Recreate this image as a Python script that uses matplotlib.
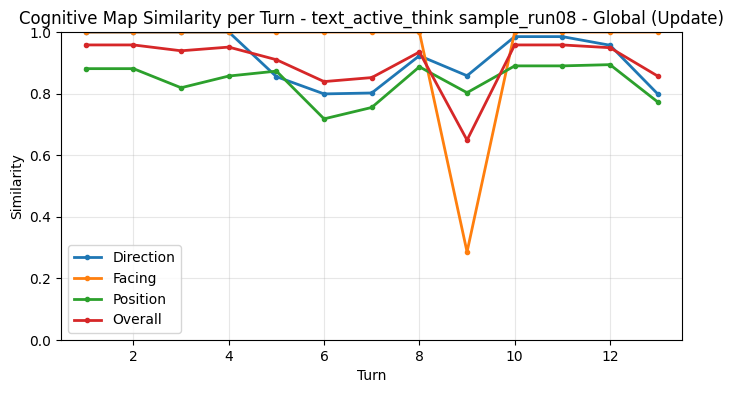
import matplotlib
matplotlib.use("Agg")
import matplotlib.pyplot as plt

# per-turn similarity values
turns = list(range(1, 14))
direction = [1.0, 1.0, 1.0, 1.0, 0.855, 0.799, 0.802, 0.923, 0.858, 0.985, 0.985, 0.957, 0.799]
facing = [1.0, 1.0, 1.0, 1.0, 1.0, 1.0, 1.0, 1.0, 0.286, 1.0, 1.0, 1.0, 1.0]
position = [0.881, 0.881, 0.819, 0.857, 0.873, 0.718, 0.755, 0.887, 0.803, 0.890, 0.890, 0.894, 0.773]
overall = [0.958, 0.958, 0.939, 0.951, 0.910, 0.839, 0.852, 0.935, 0.649, 0.958, 0.958, 0.949, 0.857]

W, H = 733, 393
fig = plt.figure(figsize=(W / 100, H / 100), dpi=100)
# axes box placed to match the reference pixels
ax = fig.add_axes([61 / W, (H - 340) / H, (681.5 - 61) / W, (340 - 32) / H])
ax.plot(turns, direction, marker="o", markersize=3, linewidth=2, label="Direction")
ax.plot(turns, facing, marker="o", markersize=3, linewidth=2, label="Facing")
ax.plot(turns, position, marker="o", markersize=3, linewidth=2, label="Position")
ax.plot(turns, overall, marker="o", markersize=3, linewidth=2, label="Overall")

ax.set_title("Cognitive Map Similarity per Turn - text_active_think sample_run08 - Global (Update)")
ax.set_xlabel("Turn")
ax.set_ylabel("Similarity")
ax.set_xlim(0.48, 13.5)
ax.set_ylim(0, 1)
ax.grid(True, alpha=0.3)
ax.legend(loc="lower left")

fig.savefig("out.png")
